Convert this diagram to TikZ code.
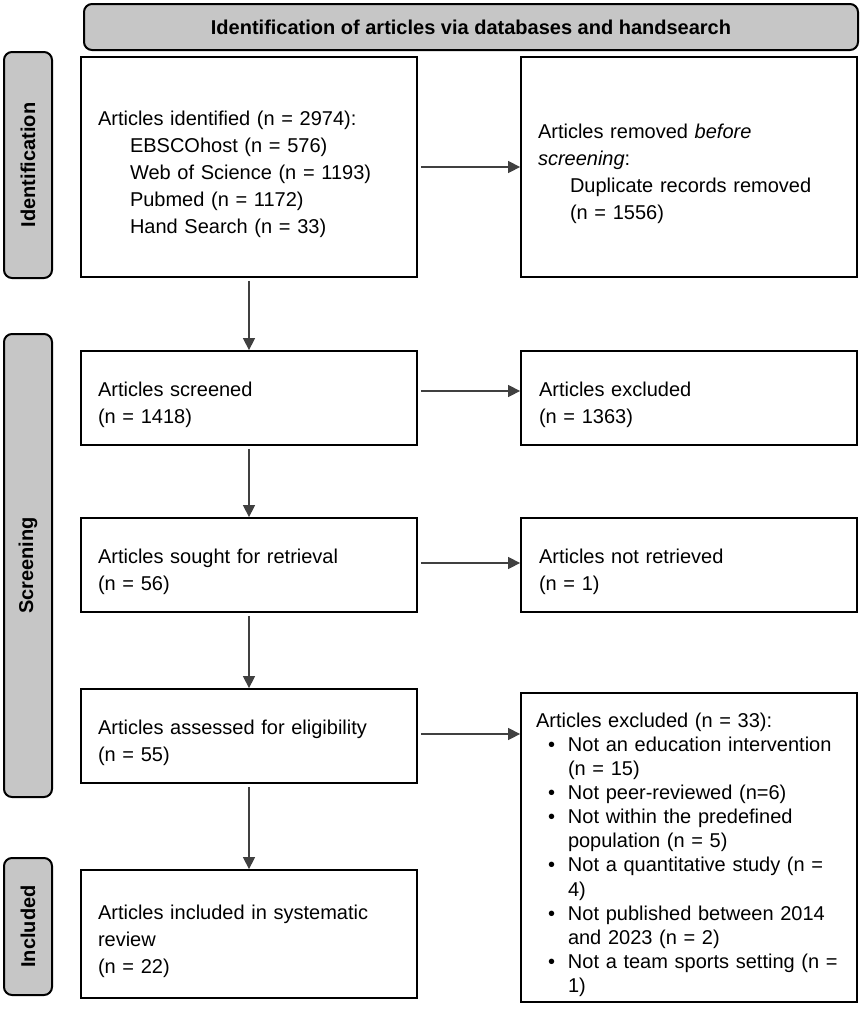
\documentclass[tikz,border=0pt]{standalone}
\usepackage{fontspec}
\setmainfont{Liberation Sans}
\usetikzlibrary{arrows.meta}
\newcommand{\bul}[1]{\hspace*{12pt}\makebox[20pt][l]{•}\mbox{#1}}
\newcommand{\cont}[1]{\hspace*{32pt}\mbox{#1}}
\begin{document}
\begin{tikzpicture}[x=1pt,y=-1pt,
  stagebox/.style={draw=black, line width=2pt, rounded corners=8pt, fill=gray!45,
    inner sep=0pt, font=\bfseries\fontsize{20}{24}\selectfont},
  flowbox/.style={draw=black, line width=1.8pt, fill=white, inner ysep=0pt,
    align=left, font=\fontsize{20}{27}\selectfont, execute at begin node={\rule{0pt}{29pt}}},
  arr/.style={draw=black!75, line width=1.4pt, -{Triangle[length=12pt,width=12pt]}, shorten <=3pt}
]
\useasboundingbox (0,0) rectangle (865,1009);

% header
\node[stagebox, minimum width=774pt, minimum height=46pt] (head) at (471,27)
  {Identification of articles via databases and handsearch};

% side stage labels
\node[stagebox, minimum width=226pt, minimum height=48pt, rotate=90] (sid) at (28,165) {Identification};
\node[stagebox, minimum width=463pt, minimum height=48pt, rotate=90] (sscr) at (28,565.5) {Screening};
\node[stagebox, minimum width=137pt, minimum height=48pt, rotate=90] (sinc) at (28,926.5) {Included};

% left column
\node[flowbox, text width=302pt, inner xsep=17pt, minimum height=220pt] (b1) at (249,167)
  {Articles identified (n = 2974):\\
   \cont{EBSCOhost (n = 576)}\\
   \cont{Web of Science (n = 1193)}\\
   \cont{Pubmed (n = 1172)}\\
   \cont{Hand Search (n = 33)}};
\node[flowbox, text width=302pt, inner xsep=17pt, minimum height=94pt] (b3) at (249,398)
  {Articles screened\\(n = 1418)};
\node[flowbox, text width=302pt, inner xsep=17pt, minimum height=94pt] (b5) at (249,565)
  {Articles sought for retrieval\\(n = 56)};
\node[flowbox, text width=302pt, inner xsep=17pt, minimum height=94pt] (b7) at (249,736)
  {Articles assessed for eligibility\\(n = 55)};
\node[flowbox, text width=302pt, inner xsep=17pt, minimum height=128pt] (b9) at (249,934)
  {Articles included in systematic\\review\\(n = 22)};

% right column
\node[flowbox, text width=302pt, inner xsep=17pt, minimum height=220pt] (b2) at (689,167)
  {Articles removed \textit{before}\\
   \textit{screening}:\\
   \cont{Duplicate records removed}\\
   \cont{(n = 1556)}};
\node[flowbox, text width=300pt, inner xsep=18pt, minimum height=94pt] (b4) at (689,398)
  {Articles excluded\\(n = 1363)};
\node[flowbox, text width=300pt, inner xsep=18pt, minimum height=94pt] (b6) at (689,565)
  {Articles not retrieved\\(n = 1)};
\node[flowbox, text width=306pt, inner xsep=15pt, minimum height=309pt,
      font=\fontsize{20}{24.1}\selectfont] (b8) at (689,847.5)
  {Articles excluded (n = 33):\\
   \bul{Not an education intervention}\\
   \cont{(n = 15)}\\
   \bul{Not peer-reviewed (n=6)}\\
   \bul{Not within the predefined}\\
   \cont{population (n = 5)}\\
   \bul{Not a quantitative study (n =}\\
   \cont{4)}\\
   \bul{Not published between 2014}\\
   \cont{and 2023 (n = 2)}\\
   \bul{Not a team sports setting (n =}\\
   \cont{1)}};

% vertical arrows
\draw[arr] (b1.south) -- (b3.north);
\draw[arr] (b3.south) -- (b5.north);
\draw[arr] (b5.south) -- (b7.north);
\draw[arr] (b7.south) -- (b9.north);

% horizontal arrows
\draw[arr] (b1.east) -- (b2.west);
\draw[arr] ([yshift=7pt]b3.east) -- ([yshift=7pt]b3.east -| b4.west);
\draw[arr] ([yshift=2pt]b5.east) -- ([yshift=2pt]b5.east -| b6.west);
\draw[arr] ([yshift=2pt]b7.east) -- ([yshift=2pt]b7.east -| b8.west);
\end{tikzpicture}
\end{document}
